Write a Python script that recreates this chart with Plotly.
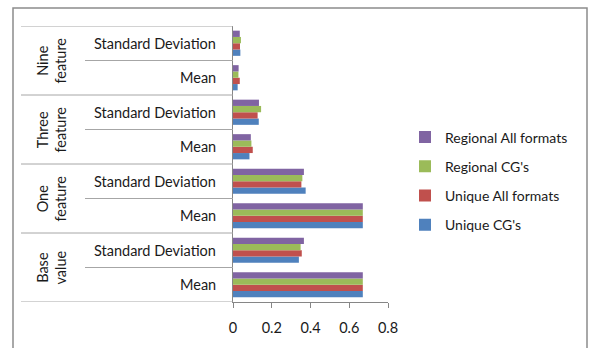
import plotly.graph_objects as go

# Category structure (bottom to top on the axis)
groups = ["Base value", "One feature", "Three feature", "Nine feature"]
group_labels = ["Base<br>value", "One<br>feature", "Three<br>feature", "Nine<br>feature"]
stats = ["Mean", "Standard Deviation"]

# Series values, in the same order as the categories
unique_cg = [0.67, 0.34, 0.67, 0.375, 0.085, 0.133, 0.024, 0.038]
unique_all = [0.67, 0.355, 0.67, 0.353, 0.102, 0.127, 0.035, 0.036]
regional_cg = [0.67, 0.349, 0.67, 0.358, 0.095, 0.145, 0.028, 0.041]
regional_all = [0.67, 0.366, 0.67, 0.366, 0.092, 0.134, 0.029, 0.035]

x_ticks = [0, 0.2, 0.4, 0.6, 0.8]

series = [
    ("Unique CG's", unique_cg, "#4F81BD"),
    ("Unique All formats", unique_all, "#C0504D"),
    ("Regional CG's", regional_cg, "#9BBB59"),
    ("Regional All formats", regional_all, "#8064A2"),
]

cats = [f"{g} | {s}" for g in groups for s in stats]

# Figure geometry in pixels
W, H = 589, 348
L, R, T, B = 233, 201, 26, 46
PW, PH = W - L - R, H - T - B


def px(x):
    return (x - L) / PW


def py(y):
    return (H - B - y) / PH


FONT = "Lato"
TXT = "#1a1a1a"
fig = go.Figure()
for i, (name, vals, color) in enumerate(series):
    fig.add_trace(go.Bar(
        y=cats, x=vals, name=name, orientation="h",
        marker=dict(color=color, line=dict(width=0)),
        legendgroup=str(i), legendrank=len(series) - i,
    ))

shapes = []
# Separators of the two-level category axis
for i in range(len(cats) + 1):
    x0 = px(21) if i % 2 == 0 else px(85)
    shapes.append(dict(type="line", xref="paper", yref="y",
                       x0=x0, x1=0, y0=i - 0.5, y1=i - 0.5,
                       line=dict(color="#A6A6A6", width=1)))
# Outer chart frame
shapes.append(dict(type="rect", xref="paper", yref="paper",
                   x0=px(13), x1=px(587), y0=py(360), y1=py(8),
                   line=dict(color="#8C8C8C", width=1.5)))

annotations = []
for gi, lab in enumerate(group_labels):
    annotations.append(dict(
        text=lab, xref="paper", yref="y", x=px(51), y=2 * gi + 0.5,
        textangle=-90, showarrow=False, xanchor="center", yanchor="middle",
        font=dict(family=FONT, size=14.5, color=TXT),
    ))
for ci, c in enumerate(cats):
    annotations.append(dict(
        text=stats[ci % 2], xref="paper", yref="y", x=px(218), y=ci,
        showarrow=False, xanchor="right", yanchor="middle",
        font=dict(family=FONT, size=14.5, color=TXT),
    ))

fig.update_layout(
    width=W, height=H,
    margin=dict(l=L, r=R, t=T, b=B, autoexpand=False),
    paper_bgcolor="white", plot_bgcolor="white",
    barmode="group", bargap=0.27, bargroupgap=0,
    font=dict(family=FONT, size=14, color=TXT),
    xaxis=dict(range=[0, 0.8], tickvals=x_ticks, ticktext=[f"{v:g}" for v in x_ticks],
               showgrid=False, zeroline=False, showline=True,
               linecolor="#868686", linewidth=1, ticks="outside", ticklen=5,
               tickcolor="#868686", ticklabelstandoff=8,
               tickfont=dict(family=FONT, size=14.5, color=TXT)),
    yaxis=dict(type="category", categoryorder="array", categoryarray=cats,
               range=[-0.5, len(cats) - 0.5],
               showticklabels=False, showgrid=False, zeroline=False,
               showline=True, linecolor="#868686", linewidth=1, ticks=""),
    legend=dict(x=px(405), y=py(181), xanchor="left", yanchor="middle",
                traceorder="grouped", tracegroupgap=8,
                font=dict(family=FONT, size=14, color=TXT),
                bgcolor="rgba(0,0,0,0)"),
    shapes=shapes, annotations=annotations,
)

fig.write_html("out.html")
